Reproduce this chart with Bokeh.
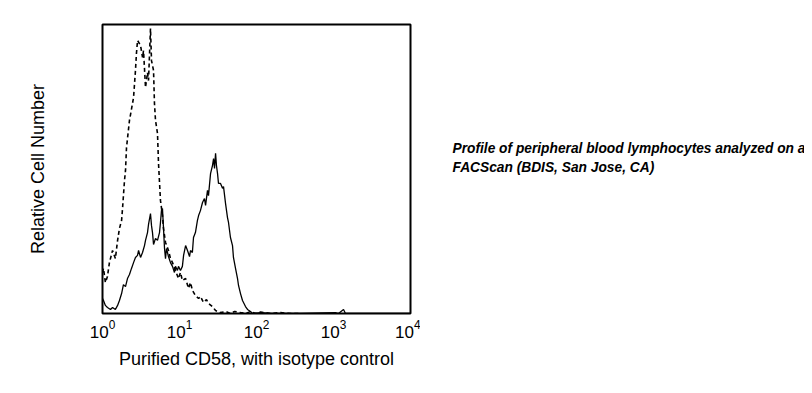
from bokeh.plotting import figure
from bokeh.layouts import row
from bokeh.models import Range1d, FixedTicker
from bokeh.core.properties import value
from bokeh.embed import file_html
from bokeh.resources import INLINE

# Isotype control (dashed) histogram: fluorescence vs relative cell number
iso_x = [1.0, 1.03, 1.09, 1.16, 1.23, 1.35, 1.47, 1.57, 1.66, 1.77, 1.82, 1.87, 1.93, 1.99,
         2.05, 2.24, 2.53, 2.68, 2.76, 2.85, 3.12, 3.31, 3.41, 3.62, 3.84, 3.96, 4.20, 4.33,
         4.60, 4.73, 4.88, 5.18, 5.34, 5.66, 6.01, 6.20, 6.58, 7.19, 7.64, 8.11, 8.87, 9.70,
         10.3, 10.9, 12.0, 13.1, 13.9, 14.7, 16.1, 17.7, 18.7, 20.5, 22.4, 23.8, 26.8, 29.4,
         34.1, 39.6, 45.9, 52.0, 62.0, 72.0, 83.6, 97.0, 113, 152, 205, 277, 373]
iso_y = [14.2, 15.6, 10.7, 12.8, 17.6, 21.8, 19.0, 25.3, 29.4, 32.2, 36.3, 40.8, 46.0, 49.5,
         57.4, 66.8, 74.7, 84.1, 90.0, 94.5, 92.7, 88.6, 91.0, 78.2, 83.4, 80.6, 98.6, 87.5,
         84.1, 72.7, 66.8, 62.3, 51.9, 39.1, 33.9, 29.4, 24.6, 21.8, 19.0, 17.6, 14.9, 12.1,
         14.2, 11.4, 12.1, 8.7, 10.7, 8.0, 6.2, 5.2, 5.9, 3.8, 4.8, 3.5, 2.4, 1.0,
         0.3, 0.7, 0.0, 0.7, 0.3, 0.0, 0.7, 0.0, 0.5, 0.0, 0.3, 0.0, 0.0]

# Purified CD58 (solid) histogram
cd58_x = [1.0, 1.03, 1.09, 1.16, 1.27, 1.35, 1.47, 1.57, 1.66, 1.77, 1.87, 1.99, 2.11, 2.24,
          2.38, 2.53, 2.68, 2.85, 2.94, 3.12, 3.31, 3.51, 3.62, 3.84, 3.96, 4.20, 4.33, 4.46,
          4.60, 4.88, 5.18, 5.50, 5.66, 5.83, 6.01, 6.20, 6.39, 6.58, 6.78, 7.19, 7.64, 8.11,
          8.60, 8.87, 9.41, 9.70, 10.3, 10.9, 11.3, 12.0, 12.7, 13.5, 13.9, 14.7, 15.2, 16.1,
          17.1, 17.7, 18.7, 19.9, 21.1, 21.8, 23.1, 23.8, 25.3, 26.8, 27.7, 28.5, 29.4, 30.2,
          31.2, 32.1, 34.1, 36.2, 37.3, 39.6, 42.0, 43.3, 45.9, 48.8, 50.2, 53.4, 56.7, 58.4,
          62.0, 65.8, 72.0, 76.4, 83.6, 88.7, 113, 152, 373, 1060, 1160, 1350, 1430, 10000]
cd58_y = [5.2, 4.5, 2.8, 2.1, 1.4, 2.1, 1.4, 2.8, 4.5, 6.9, 10.0, 9.3, 12.1, 13.5,
          15.6, 17.6, 19.4, 20.1, 21.8, 19.4, 21.1, 23.5, 25.3, 28.0, 30.8, 34.6, 30.4, 28.0,
          23.9, 26.0, 25.3, 28.0, 31.5, 35.6, 36.3, 29.4, 22.5, 19.0, 22.5, 19.7, 17.6, 16.3,
          14.2, 16.3, 14.9, 16.3, 14.9, 16.3, 20.1, 23.5, 21.8, 19.7, 21.8, 21.1, 26.3, 28.0,
          32.2, 33.9, 35.6, 38.4, 39.8, 37.4, 42.6, 40.8, 48.4, 51.2, 53.6, 50.2, 55.4, 51.2,
          48.4, 45.0, 45.0, 43.3, 43.9, 38.1, 33.2, 31.5, 26.3, 23.5, 19.4, 15.6, 12.1, 9.7,
          6.9, 4.5, 2.4, 1.4, 0.7, 0.0, 0.3, 0.0, 0.0, 0.3, 0.0, 1.4, 0.0, 0.0]

x_label = "Purified CD58, with isotype control"
y_label = "Relative Cell Number"
note_lines = ["Profile of peripheral blood lymphocytes analyzed on a",
              "FACScan (BDIS, San Jose, CA)"]

FONT = "Liberation Sans"

p = figure(width=420, height=385, x_axis_type="log",
           x_range=Range1d(1, 10000), y_range=Range1d(0, 100),
           output_backend="svg", toolbar_location=None,
           min_border_left=102, min_border_right=10,
           min_border_top=24, min_border_bottom=72)

p.background_fill_color = "white"
p.border_fill_color = "white"
p.outline_line_color = "black"
p.outline_line_width = 2
p.xgrid.grid_line_color = None
p.ygrid.grid_line_color = None

p.line(iso_x, iso_y, line_color="black", line_width=1.6, line_dash="4 3")
p.line(cd58_x, cd58_y, line_color="black", line_width=1.3)

xa = p.xaxis[0]
xa.axis_line_color = None
xa.major_tick_line_color = None
xa.minor_tick_line_color = None
xa.major_tick_out = 0
xa.major_label_text_font = FONT
xa.major_label_text_font_size = "17px"
xa.major_label_text_color = "black"
xa.major_label_standoff = 2
xa.axis_label = x_label
xa.axis_label_text_font = FONT
xa.axis_label_text_font_size = "18px"
xa.axis_label_text_font_style = "normal"
xa.axis_label_text_color = "black"
xa.axis_label_standoff = 8

ya = p.yaxis[0]
ya.ticker = FixedTicker(ticks=[])
ya.axis_line_color = None
ya.major_tick_line_color = None
ya.minor_tick_line_color = None
ya.major_tick_out = 0
ya.major_label_standoff = 0
ya.axis_label = y_label
ya.axis_label_text_font = FONT
ya.axis_label_text_font_size = "18px"
ya.axis_label_text_font_style = "normal"
ya.axis_label_text_color = "black"
ya.axis_label_standoff = 55

# Side note panel
q = figure(frame_width=384, frame_height=385, x_range=Range1d(0, 384), y_range=Range1d(385, 0),
           output_backend="svg", toolbar_location=None, title=None,
           x_axis_location=None, y_axis_location=None,
           min_border_left=0, min_border_right=0, min_border_top=0, min_border_bottom=0)
q.outline_line_color = None
q.xgrid.grid_line_color = None
q.ygrid.grid_line_color = None
q.background_fill_color = "white"
q.border_fill_color = "white"
q.text(x=[32, 32], y=[124, 143], text=note_lines, text_font=value(FONT),
       text_font_size="13.75px", text_font_style="bold italic", text_color="black",
       text_baseline="middle", text_align="left")

layout = row(p, q, spacing=0)
open("out.html", "w").write(file_html(layout, INLINE))
